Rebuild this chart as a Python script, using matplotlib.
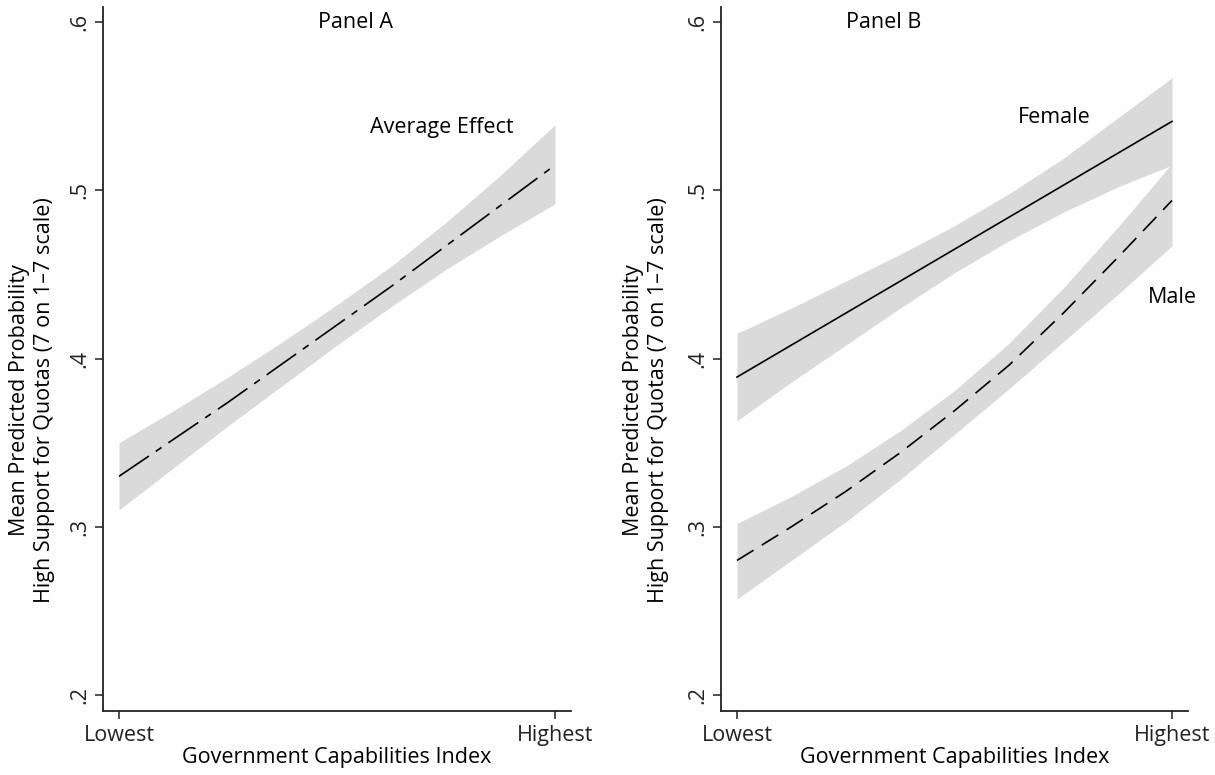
import matplotlib
matplotlib.use("Agg")
import matplotlib.pyplot as plt

plt.rcParams['font.family'] = ['Open Sans', 'DejaVu Sans']
plt.rcParams['lines.scale_dashes'] = False

# x positions along the index (0 = lowest, 1 = highest)
x_pts = [0.0, 0.125, 0.25, 0.375, 0.5, 0.625, 0.75, 0.875, 1.0]

# Panel A: average effect with 95% band
avg_mean = [0.330, 0.352, 0.374, 0.397, 0.420, 0.443, 0.467, 0.491, 0.515]
avg_lo = [0.310, 0.335, 0.360, 0.384, 0.408, 0.431, 0.453, 0.473, 0.492]
avg_hi = [0.350, 0.369, 0.389, 0.410, 0.432, 0.455, 0.481, 0.509, 0.539]

# Panel B: by gender
fem_mean = [0.389, 0.408, 0.427, 0.446, 0.465, 0.484, 0.503, 0.522, 0.541]
fem_lo = [0.363, 0.386, 0.408, 0.430, 0.451, 0.470, 0.487, 0.502, 0.515]
fem_hi = [0.415, 0.430, 0.446, 0.462, 0.479, 0.498, 0.519, 0.543, 0.567]

male_mean = [0.280, 0.300, 0.321, 0.344, 0.369, 0.396, 0.427, 0.460, 0.494]
male_lo = [0.257, 0.280, 0.303, 0.328, 0.355, 0.382, 0.410, 0.438, 0.467]
male_hi = [0.302, 0.318, 0.336, 0.357, 0.381, 0.409, 0.442, 0.478, 0.516]

x_ticklabels = ['Lowest', 'Highest']
y_ticks = [0.2, 0.3, 0.4, 0.5, 0.6]
y_ticklabels = ['.2', '.3', '.4', '.5', '.6']

band_col = '#dadada'
fs = 15.5

fig = plt.figure(figsize=(12.15, 7.75), dpi=100)
axA = fig.add_axes([103/1215, 1 - 711/775, 468/1215, 704/775])
axB = fig.add_axes([721/1215, 1 - 711/775, 467/1215, 704/775])


def style(ax):
    ax.set_xlim(-0.0367, 1.0367)
    ax.set_ylim(0.1905, 0.609)
    ax.set_xticks([0, 1])
    ax.set_xticklabels(x_ticklabels, fontsize=fs)
    ax.set_yticks(y_ticks)
    ax.set_yticklabels(y_ticklabels, fontsize=fs, rotation=90, va='center')
    for s in ['top', 'right']:
        ax.spines[s].set_visible(False)
    for s in ['left', 'bottom']:
        ax.spines[s].set_linewidth(1.3)
        ax.spines[s].set_color('#222222')
    ax.tick_params(direction='out', length=6, width=1.1, colors='#222222', pad=4)
    ax.tick_params(axis='y', pad=3)
    ax.set_xlabel('Government Capabilities Index', fontsize=fs, labelpad=1)


# Panel A
axA.fill_between(x_pts, avg_lo, avg_hi, color=band_col, lw=0)
axA.plot(x_pts, avg_mean, color='black', lw=1.2, dashes=(26, 6, 5, 6))
axA.text(0.543, 0.6, 'Panel A', fontsize=fs, ha='center', va='center')
axA.text(0.74, 0.5375, 'Average Effect', fontsize=fs, ha='center', va='center')
style(axA)

# Panel B
axB.fill_between(x_pts, fem_lo, fem_hi, color=band_col, lw=0)
axB.fill_between(x_pts, male_lo, male_hi, color=band_col, lw=0)
axB.plot(x_pts, fem_mean, color='black', lw=1.2)
axB.plot(x_pts, male_mean, color='black', lw=1.2, dashes=(14, 7))
axB.text(0.336, 0.6, 'Panel B', fontsize=fs, ha='center', va='center')
axB.text(0.73, 0.5435, 'Female', fontsize=fs, ha='center', va='center')
axB.text(1.0, 0.4363, 'Male', fontsize=fs, ha='center', va='center')
style(axB)

# two-line y titles
ytitle = 'Mean Predicted Probability\nHigh Support for Quotas (7 on 1\u20137 scale)'
for xpix in [32, 646]:
    fig.text(xpix/1215, 1 - 400/775, ytitle, rotation=90, ha='center',
             va='center', fontsize=fs, linespacing=1.3, multialignment='center')

fig.savefig('out.png', dpi=100)
